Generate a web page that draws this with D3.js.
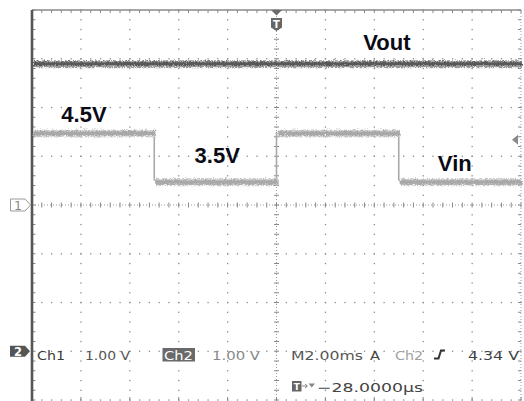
<!DOCTYPE html>
<html>
<head>
<meta charset="utf-8">
<script src="https://cdn.jsdelivr.net/npm/d3@7/dist/d3.min.js"></script>
<style>
  html, body { margin: 0; padding: 0; background: #fff; }
  svg { display: block; }
</style>
</head>
<body>
<svg id="chart" width="524" height="401"></svg>
<script>
// ---------------- data ----------------
const timeBreaksMs = [-10, -5, 0, 5, 10];          // Vin level boundaries (ms, relative to trigger)
const vinVolts     = [4.5, 3.5, 4.5, 3.5];          // Vin level in each interval (Ch2)
const voutBreaksMs = [-10, 10];
const voutVolts    = [2.92];                        // Vout level (Ch1)
const ch1GroundDiv = 0;                             // Ch1 ground marker position (divisions)
const ch2GroundDiv = -3;                            // Ch2 ground marker position (divisions)
const voltsPerDiv  = 1.0;
const triggerLevelV = 4.34;                         // Ch2 trigger level
const traceLabels  = ["Vout", "4.5V", "3.5V", "Vin"];
const statusRow1   = ["Ch1", "1.00 V", "Ch2", "1.00 V", "M2.00ms", "A", "Ch2", "4.34 V"];
const statusRow2   = ["−28.0000µs"];

// ---------------- layout ----------------
const svg = d3.select("#chart");
const x = d3.scaleLinear().domain([-10, 10]).range([32, 521]);
const y = d3.scaleLinear().domain([-4, 4]).range([400, 10]);
const ch1 = v => y(ch1GroundDiv + v / voltsPerDiv);
const ch2 = v => y(ch2GroundDiv + v / voltsPerDiv);

const defs = svg.append("defs");
const f = defs.append("filter").attr("id", "noise")
  .attr("filterUnits", "userSpaceOnUse").attr("x", 0).attr("y", 0).attr("width", 524).attr("height", 401);
f.append("feTurbulence").attr("type", "turbulence").attr("baseFrequency", "0.9 0.6")
  .attr("numOctaves", 1).attr("seed", 4).attr("result", "n");
f.append("feDisplacementMap").attr("in", "SourceGraphic").attr("in2", "n")
  .attr("scale", 4).attr("xChannelSelector", "R").attr("yChannelSelector", "G");

const grid = svg.append("g");
const majorX = d3.range(-8, 8.01, 2).filter(d => Math.abs(d) > 1e-6);
const majorY = d3.range(-3, 3.01, 1).filter(d => Math.abs(d) > 1e-6);
const minorX = d3.range(-10, 10.001, 0.4);
const minorY = d3.range(-4, 4.001, 0.2);
const dotCol = "#8c8c8c";

// dots along vertical grid lines
const vDots = [];
majorX.forEach(t => minorY.forEach(d => vDots.push([t, d])));
grid.selectAll("rect.vd").data(vDots).join("rect").attr("class", "vd")
  .attr("x", d => x(d[0]) - 0.6).attr("y", d => y(d[1]) - 0.6)
  .attr("width", 1.3).attr("height", 1.3).attr("fill", dotCol);
// dots along horizontal grid rows
const hDots = [];
majorY.forEach(dv => minorX.forEach(t => hDots.push([t, dv])));
grid.selectAll("rect.hd").data(hDots).join("rect").attr("class", "hd")
  .attr("x", d => x(d[0]) - 0.6).attr("y", d => y(d[1]) - 0.6)
  .attr("width", 1.3).attr("height", 1.3).attr("fill", dotCol);

// centre lines
grid.append("line").attr("x1", x(0)).attr("x2", x(0)).attr("y1", y(4)).attr("y2", y(-4))
  .attr("stroke", "#9a9a9a").attr("stroke-width", 1).attr("stroke-dasharray", "1,2");
grid.append("line").attr("x1", x(-10)).attr("x2", x(10)).attr("y1", y(0)).attr("y2", y(0))
  .attr("stroke", "#9a9a9a").attr("stroke-width", 1).attr("stroke-dasharray", "1,2");
grid.selectAll("line.cty").data(minorY).join("line").attr("class", "cty")
  .attr("x1", x(0) - 2.5).attr("x2", x(0) + 2.5).attr("y1", d => y(d)).attr("y2", d => y(d))
  .attr("stroke", "#888").attr("stroke-width", 1);
grid.selectAll("line.ctx").data(minorX).join("line").attr("class", "ctx")
  .attr("x1", d => x(d)).attr("x2", d => x(d)).attr("y1", y(0) - 2.5).attr("y2", y(0) + 2.5)
  .attr("stroke", "#888").attr("stroke-width", 1);

// borders
grid.append("line").attr("x1", x(-10)).attr("x2", x(10)).attr("y1", y(4)).attr("y2", y(4))
  .attr("stroke", "#8a8a8a").attr("stroke-width", 1.5);
grid.selectAll("line.tt").data(minorX).join("line").attr("class", "tt")
  .attr("x1", d => x(d)).attr("x2", d => x(d)).attr("y1", y(4)).attr("y2", y(4) + 3)
  .attr("stroke", "#888").attr("stroke-width", 1);
grid.append("line").attr("x1", x(10)).attr("x2", x(10)).attr("y1", y(4)).attr("y2", y(-4))
  .attr("stroke", "#999").attr("stroke-width", 1).attr("stroke-dasharray", "1,2");
grid.selectAll("line.rt").data(minorY).join("line").attr("class", "rt")
  .attr("x1", x(10) - 3).attr("x2", x(10)).attr("y1", d => y(d)).attr("y2", d => y(d))
  .attr("stroke", "#888").attr("stroke-width", 1);
grid.selectAll("rect.bt").data(minorX).join("rect").attr("class", "bt")
  .attr("x", d => x(d) - 0.6).attr("y", y(-4) - 0.6).attr("width", 1.3).attr("height", 1.3).attr("fill", dotCol);
grid.selectAll("line.bmt").data(d3.range(-10, 10.01, 2)).join("line").attr("class", "bmt")
  .attr("x1", d => x(d)).attr("x2", d => x(d)).attr("y1", y(-4) - 3).attr("y2", y(-4))
  .attr("stroke", "#888").attr("stroke-width", 1);
grid.selectAll("line.lt").data(minorY).join("line").attr("class", "lt")
  .attr("x1", x(-10)).attr("x2", x(-10) + 3.5).attr("y1", d => y(d)).attr("y2", d => y(d))
  .attr("stroke", "#888").attr("stroke-width", 1);
grid.append("line").attr("x1", x(-10)).attr("x2", x(-10)).attr("y1", y(4)).attr("y2", 401)
  .attr("stroke", "#555").attr("stroke-width", 2.6);

// ---------------- traces ----------------
const traces = svg.append("g");
// Vout (Ch1)
const voutSegs = voutVolts.map((v, i) => ({ t0: voutBreaksMs[i], t1: voutBreaksMs[i + 1], v }));
const vg = traces.append("g").attr("filter", "url(#noise)");
vg.selectAll("line.vo-h").data(voutSegs).join("line").attr("class", "vo-h")
  .attr("x1", d => x(d.t0)).attr("x2", d => x(d.t1)).attr("y1", d => ch1(d.v)).attr("y2", d => ch1(d.v))
  .attr("stroke", "#999").attr("stroke-width", 7);
vg.selectAll("line.vo-c").data(voutSegs).join("line").attr("class", "vo-c")
  .attr("x1", d => x(d.t0)).attr("x2", d => x(d.t1)).attr("y1", d => ch1(d.v) - 0.5).attr("y2", d => ch1(d.v) - 0.5)
  .attr("stroke", "#585858").attr("stroke-width", 3.5);

// Vin (Ch2)
const vinSegs = vinVolts.map((v, i) => ({ t0: timeBreaksMs[i], t1: timeBreaksMs[i + 1], v }));
const vinEdges = vinVolts.slice(1).map((v, i) => ({ t: timeBreaksMs[i + 1], a: vinVolts[i], b: v }));
const ig = traces.append("g");
ig.selectAll("line.vi-e").data(vinEdges).join("line").attr("class", "vi-e")
  .attr("x1", d => x(d.t)).attr("x2", d => x(d.t)).attr("y1", d => ch2(d.a)).attr("y2", d => ch2(d.b))
  .attr("stroke", "#a9a9a9").attr("stroke-width", 1.6);
const ign = ig.append("g").attr("filter", "url(#noise)");
ign.selectAll("line.vi-h").data(vinSegs).join("line").attr("class", "vi-h")
  .attr("x1", d => x(d.t0)).attr("x2", d => x(d.t1)).attr("y1", d => ch2(d.v)).attr("y2", d => ch2(d.v))
  .attr("stroke", "#c4c4c4").attr("stroke-width", 7);
ign.selectAll("line.vi-c").data(vinSegs).join("line").attr("class", "vi-c")
  .attr("x1", d => x(d.t0)).attr("x2", d => x(d.t1)).attr("y1", d => ch2(d.v)).attr("y2", d => ch2(d.v))
  .attr("stroke", "#a8a8a8").attr("stroke-width", 4);

// ---------------- trace labels ----------------
const lblPos = [
  { x: x(3.55), y: 50 },   // Vout
  { x: x(-8.8), y: 122 },  // 4.5V
  { x: x(-3.35), y: 163 }, // 3.5V
  { x: x(6.6), y: 171 }    // Vin
];
svg.append("g").selectAll("text").data(traceLabels).join("text")
  .attr("x", (d, i) => lblPos[i].x).attr("y", (d, i) => lblPos[i].y)
  .attr("font-family", "'Liberation Sans', Arial, sans-serif").attr("font-weight", "bold")
  .attr("font-size", 22).attr("fill", "#0b0b16").text(d => d);

// ---------------- markers ----------------
const mk = svg.append("g");
// trigger position marker at top
const tx = x(0);
mk.append("path").attr("d", `M${tx - 5.5},10 L${tx + 5.5},10 L${tx},15.5 Z`).attr("fill", "#6a6a6a");
mk.append("path").attr("d", `M${tx - 5.5},18 L${tx + 5.5},18 L${tx + 5.5},27.5 L${tx},31 L${tx - 5.5},27.5 Z`).attr("fill", "#666");
mk.append("text").attr("x", tx).attr("y", 27.5).attr("text-anchor", "middle").attr("font-family", "DejaVu Sans")
  .attr("font-weight", "bold").attr("font-size", 10).attr("fill", "#fff").text("T");
// trigger level arrow (right)
const ty = ch2(triggerLevelV);
mk.append("path").attr("d", `M${x(10) - 3},${ty - 5} L${x(10) - 3},${ty + 5} L${x(10) - 9},${ty} Z`).attr("fill", "#8a8a8a");
// Ch1 ground marker
const g1 = y(ch1GroundDiv);
mk.append("path").attr("d", `M10.5,${g1 - 6} L25,${g1 - 6} L30.5,${g1} L25,${g1 + 6} L10.5,${g1 + 6} Z`)
  .attr("fill", "#fff").attr("stroke", "#9a9a9a").attr("stroke-width", 1);
mk.append("text").attr("x", 18).attr("y", g1 + 5).attr("text-anchor", "middle").attr("font-family", "DejaVu Sans")
  .attr("font-size", 12.5).attr("fill", "#8a8a8a").text("1");
// Ch2 ground marker
const g2 = y(ch2GroundDiv);
mk.append("path").attr("d", `M10,${g2 - 5.5} L25,${g2 - 5.5} L30,${g2} L25,${g2 + 5.5} L10,${g2 + 5.5} Z`).attr("fill", "#555");
mk.append("text").attr("x", 18).attr("y", g2 + 4.5).attr("text-anchor", "middle").attr("font-family", "DejaVu Sans")
  .attr("font-weight", "bold").attr("font-size", 11.5).attr("fill", "#fff").text("2");

// ---------------- status text ----------------
const st = svg.append("g").attr("font-family", "'DejaVu Sans', sans-serif").attr("font-size", 12.5);
const row1 = [
  { x: 37, w: 28, c: "#3a3a3a" },
  { x: 85, w: 45, c: "#555" },
  { x: 164, w: 29, c: "#fff" },
  { x: 212, w: 48, c: "#888" },
  { x: 291, w: 72, c: "#555" },
  { x: 370, w: 10, c: "#444" },
  { x: 395, w: 28, c: "#a0a0a0" },
  { x: 468, w: 51, c: "#3f3f3f" }
];
st.append("rect").attr("x", 162.5).attr("y", 348).attr("width", 32.5).attr("height", 13.5).attr("fill", "#6a6a6a");
st.selectAll("text.r1").data(statusRow1).join("text").attr("class", "r1")
  .attr("x", (d, i) => row1[i].x).attr("y", 359.5)
  .attr("textLength", (d, i) => row1[i].w).attr("lengthAdjust", "spacingAndGlyphs")
  .attr("fill", (d, i) => row1[i].c).text(d => d);
// trigger slope symbol
st.append("path").attr("d", "M434,358.5 L438.5,358.5 L441,350.5 L445,350.5")
  .attr("fill", "none").attr("stroke", "#333").attr("stroke-width", 2);
// row 2
st.append("rect").attr("x", 292).attr("y", 381).attr("width", 9.5).attr("height", 10.5).attr("fill", "#666");
st.append("text").attr("x", 296.8).attr("y", 390).attr("text-anchor", "middle").attr("font-size", 9)
  .attr("font-weight", "bold").attr("fill", "#fff").text("T");
st.append("path").attr("d", "M302,386 L307,386 M305,384 L307.5,386 L305,388").attr("stroke", "#888").attr("fill", "none").attr("stroke-width", 1);
st.append("path").attr("d", "M308.5,383.5 L315,383.5 L311.75,387.5 Z").attr("fill", "#888");
st.selectAll("text.r2").data(statusRow2).join("text").attr("class", "r2")
  .attr("x", 317).attr("y", 391.5).attr("textLength", 106).attr("lengthAdjust", "spacingAndGlyphs")
  .attr("fill", "#444").text(d => d);
</script>
</body>
</html>
